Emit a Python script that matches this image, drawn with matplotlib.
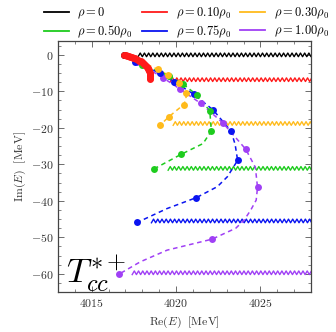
import numpy as np
import matplotlib
matplotlib.use('Agg')
import matplotlib.pyplot as plt
from matplotlib.lines import Line2D
from matplotlib.ticker import MultipleLocator, FuncFormatter

plt.rcParams['mathtext.fontset'] = 'cm'
plt.rcParams['font.family'] = 'serif'
plt.rcParams['font.serif'] = ['DejaVu Serif']

# vacuum pole
pole_re = 4016.93
pole_im = 0.05

# pole positions (dots), one trajectory per density
re_010 = [4016.93, 4017.02, 4017.11, 4017.20, 4017.29, 4017.38, 4017.46, 4017.55, 4017.64,
          4017.73, 4017.82, 4017.91, 4018.00, 4018.06, 4018.12, 4018.18, 4018.24, 4018.29,
          4018.33, 4018.36, 4018.39, 4018.41, 4018.43, 4018.44, 4018.45, 4018.47, 4018.48, 4018.48]
im_010 = [0.08, -0.05, -0.19, -0.33, -0.47, -0.60, -0.74, -0.95, -1.15,
          -1.35, -1.56, -1.76, -1.97, -2.17, -2.38, -2.65, -2.93, -3.20,
          -3.48, -3.82, -4.16, -4.50, -4.85, -5.20, -5.53, -5.90, -6.22, -6.60]
re_030 = [4018.91, 4019.53, 4020.16, 4020.56, 4020.46, 4019.57, 4019.07]
im_030 = [-3.97, -5.53, -7.80, -10.40, -13.60, -16.96, -19.20]
re_050 = [4018.00, 4019.56, 4020.42, 4021.26, 4022.00, 4022.09, 4020.32, 4018.67]
im_050 = [-2.80, -5.70, -8.00, -11.10, -15.35, -20.85, -27.20, -31.30]
re_075 = [4017.58, 4019.05, 4019.90, 4021.05, 4022.20, 4023.26, 4023.65, 4021.21, 4017.70]
im_075 = [-1.90, -5.07, -7.40, -10.80, -15.10, -20.90, -28.90, -39.10, -45.90]
re_100 = [4017.68, 4019.20, 4020.26, 4021.45, 4022.79, 4024.13, 4024.83, 4022.13, 4016.63]
im_100 = [-2.00, -6.20, -9.45, -13.25, -18.70, -25.85, -36.30, -50.50, -60.05]

# dashed curves (dots plus points in between)
line_re_030 = [4016.93, 4017.90, 4018.91, 4019.53, 4020.16, 4020.56, 4020.60, 4020.46, 4019.57, 4019.07]
line_im_030 = [0.05, -1.80, -3.97, -5.53, -7.80, -10.40, -12.00, -13.60, -16.96, -19.20]
line_re_050 = [4016.93, 4018.00, 4019.56, 4020.42, 4021.26, 4022.00, 4022.09, 4021.60, 4020.32, 4018.67]
line_im_050 = [0.05, -2.80, -5.70, -8.00, -11.10, -15.35, -20.85, -24.30, -27.20, -31.30]
line_re_075 = [4016.93, 4017.58, 4019.05, 4019.90, 4021.05, 4022.20, 4023.26, 4023.50, 4023.65,
               4023.04, 4022.45, 4021.21, 4019.47, 4017.70]
line_im_075 = [0.05, -1.90, -5.07, -7.40, -10.80, -15.10, -20.90, -24.50, -28.90,
               -33.40, -36.10, -39.10, -42.10, -45.90]
line_re_100 = [4016.93, 4017.68, 4019.20, 4020.26, 4021.45, 4022.79, 4024.13, 4024.70, 4024.83,
               4024.75, 4024.43, 4024.03, 4023.54, 4022.13, 4019.47, 4017.88, 4016.63]
line_im_100 = [0.05, -2.00, -6.20, -9.45, -13.25, -18.70, -25.85, -30.80, -36.30,
               -39.80, -42.50, -45.30, -47.50, -50.50, -53.50, -56.70, -60.05]

# threshold cuts: start of the cut and its imaginary part
cut_re = [4017.75, 4019.67, 4019.83, 4019.53, 4018.54, 4017.40]
cut_im = [0.0, -6.80, -18.80, -31.10, -45.50, -59.70]

labels = [r'$\rho = 0$', r'$\rho = 0.10\rho_0$', r'$\rho = 0.30\rho_0$',
          r'$\rho = 0.50\rho_0$', r'$\rho = 0.75\rho_0$', r'$\rho = 1.00\rho_0$']
colors = ['black', '#ff1a1a', '#ffbb1c', '#1ecc1e', '#0a14f0', '#a040f5']

fig = plt.figure(figsize=(3.36, 3.32), dpi=100)
ax = fig.add_axes([0.1726, 0.1196, 0.7530, 0.7569])
x_min, x_max = 4013.0, 4028.0
ax.set_xlim(x_min, x_max)
ax.set_ylim(-65.05, 3.8)


def zigzag(x0, y0, color):
    # wavy line marking the cut
    xs = np.arange(x0, x_max + 0.2, 0.125)
    ys = y0 + 0.5 * np.where(np.arange(len(xs)) % 2 == 0, -1, 1)
    ax.plot(xs, ys, color=color, lw=1.0, zorder=2)


for x0, y0, c in zip(cut_re, cut_im, colors):
    zigzag(x0, y0, c)

lines = [(line_re_030, line_im_030, colors[2]),
         (line_re_050, line_im_050, colors[3]),
         (line_re_075, line_im_075, colors[4]),
         (line_re_100, line_im_100, colors[5])]
for lx, ly, c in lines:
    ax.plot(lx, ly, color=c, lw=1.1, dashes=(3.0, 2.4), zorder=3)

dots = [(re_100, im_100, colors[5]), (re_075, im_075, colors[4]),
        (re_050, im_050, colors[3]), (re_030, im_030, colors[2])]
for re, im, c in dots:
    ax.plot(re, im, 'o', color=c, ms=5, mec='none', zorder=4)

ax.plot(re_010, im_010, 'o', color=colors[1], ms=5, mec='none', zorder=5)
ax.plot([pole_re], [pole_im], 'o', color='black', ms=5, mec='none', zorder=1)

ax.text(4013.5, -62.6, r'$T_{cc}^{*+}$', fontsize=25, color='black')

ax.xaxis.set_major_locator(MultipleLocator(5))
ax.xaxis.set_minor_locator(MultipleLocator(1))
ax.yaxis.set_major_locator(MultipleLocator(10))
ax.yaxis.set_minor_locator(MultipleLocator(2.5))
fmt = FuncFormatter(lambda v, pos: r'$%g$' % v)
ax.xaxis.set_major_formatter(fmt)
ax.yaxis.set_major_formatter(fmt)
ax.tick_params(which='both', direction='in', top=True, right=True, colors='#555555',
               labelcolor='#333333', labelsize=8.5)
ax.tick_params(which='major', length=4, width=0.6)
ax.tick_params(which='minor', length=2.2, width=0.5)
for s in ax.spines.values():
    s.set_color('#444444')
    s.set_linewidth(0.9)

ax.set_xlabel(r'$\mathrm{Re}(E)\ \ [\mathrm{MeV}]$', fontsize=8.5, color='#333333', labelpad=3)
ax.set_ylabel(r'$\mathrm{Im}(E)\ \ [\mathrm{MeV}]$', fontsize=8.5, color='#333333', labelpad=2)

handles = [Line2D([], [], color=c, lw=1.3) for c in colors]
order = [0, 3, 1, 4, 2, 5]
fig.legend([handles[i] for i in order], [labels[i] for i in order], ncol=3,
           loc='upper left', bbox_to_anchor=(0.104, 1.008), frameon=False, fontsize=9,
           handlelength=2.0, handletextpad=0.7, columnspacing=0.75, labelspacing=0.2,
           borderpad=0.2)

fig.savefig('out.png', dpi=100)
